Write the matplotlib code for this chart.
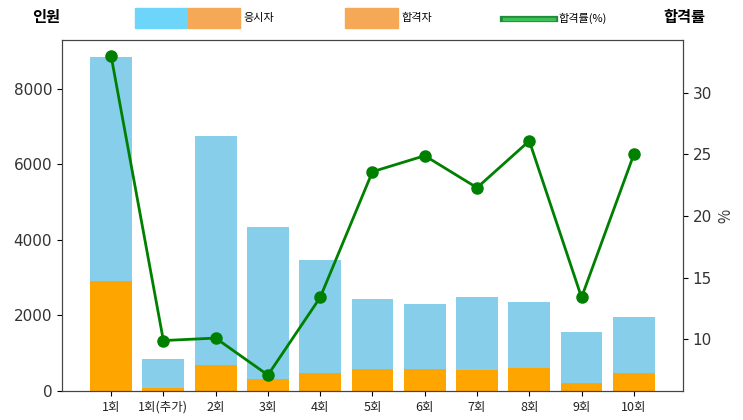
import matplotlib.pyplot as plt
from matplotlib.patches import Rectangle
from matplotlib.lines import Line2D

plt.rcParams['font.family'] = ['Noto Sans CJK KR', 'DejaVu Sans']

rounds = ['1회', '1회(추가)', '2회', '3회', '4회', '5회', '6회', '7회', '8회', '9회', '10회']
applicants = [8848, 850, 6755, 4344, 3470, 2437, 2305, 2490, 2358, 1563, 1960]
passers = [2914, 84, 682, 311, 465, 575, 573, 555, 613, 209, 490]
pass_rate = [33.0, 9.9, 10.1, 7.1, 13.4, 23.6, 24.9, 22.3, 26.1, 13.4, 25.0]

fig = plt.figure(figsize=(7.43, 4.2), dpi=100)
ax = fig.add_axes([0.0834, 0.069, 0.8358, 0.836])

x = range(len(rounds))
ax.bar(x, applicants, width=0.8, color='skyblue')
ax.bar(x, passers, width=0.8, color='orange')
ax.set_xticks(list(x))
ax.set_xticklabels(rounds, fontsize=9, color='#222222')
ax.tick_params(axis='y', labelsize=11, labelcolor='#333333')
for lab in ax.get_yticklabels():
    lab.set_family('DejaVu Sans')

ax2 = ax.twinx()
ax2.plot(x, pass_rate, color='green', marker='o', markersize=8, linewidth=2)
ax2.set_ylabel('%', fontsize=11, color='#333333')
ax2.tick_params(axis='y', labelsize=11, labelcolor='#333333')
for lab in ax2.get_yticklabels():
    lab.set_family('DejaVu Sans')

for a in (ax, ax2):
    for s in a.spines.values():
        s.set_color('#444444')

# header row drawn as a custom legend
fig.text(32/743, 1 - 17/420, '인원', fontsize=11, fontweight='bold', va='center', ha='left')
fig.text(663/743, 1 - 17/420, '합격률', fontsize=11, fontweight='bold', va='center', ha='left')

fig.patches.append(Rectangle((135/743, 1 - 28/420), 53/743, 20/420,
                             transform=fig.transFigure, color='#6dd5fa', figure=fig))
fig.patches.append(Rectangle((188/743, 1 - 28/420), 52/743, 20/420,
                             transform=fig.transFigure, color='#f5a855', figure=fig))
fig.text(243/743, 1 - 18/420, '응시자', fontsize=8, va='center', ha='left')

fig.patches.append(Rectangle((345/743, 1 - 28/420), 53/743, 20/420,
                             transform=fig.transFigure, color='#f5a855', figure=fig))
fig.text(401/743, 1 - 18/420, '합격자', fontsize=8, va='center', ha='left')

fig.lines.append(Line2D([503/743, 555/743], [1 - 19/420, 1 - 19/420],
                        transform=fig.transFigure, color='#1e8a3a', linewidth=4.5, figure=fig))
fig.lines.append(Line2D([504/743, 554/743], [1 - 19/420, 1 - 19/420],
                        transform=fig.transFigure, color='#3cbf55', linewidth=2.5, figure=fig))
fig.text(558/743, 1 - 18/420, '합격률(%)', fontsize=8, va='center', ha='left')

plt.savefig('out.png', dpi=100)
plt.clf()
